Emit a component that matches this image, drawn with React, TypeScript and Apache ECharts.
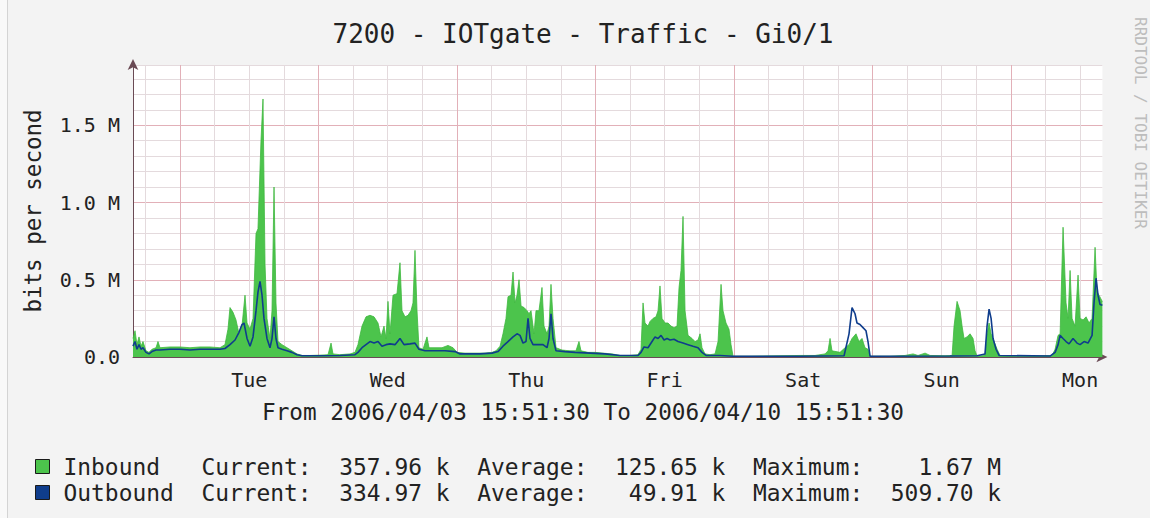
import React, { useEffect, useRef } from 'react';
import * as echarts from 'echarts';

// ---- time frame: Mon 2006/04/03 15:51:30 -> Mon 2006/04/10 15:51:30 ----
const START_HOUR_OF_DAY = 15 + 51.5 / 60;
const SPAN_HOURS = 168;
const FIRST_MIDNIGHT = 24 - START_HOUR_OF_DAY; // hours after start
const dayNames = ['Tue', 'Wed', 'Thu', 'Fri', 'Sat', 'Sun', 'Mon'];
const Y_MAX = 1.89; // M bits/s

// ---- Inbound (M bits/s), sample time in hours after start ----
const inboundHours = [
  0, 0.35, 0.69, 1.04, 1.39, 1.73, 2.25, 2.77, 3.29, 3.99, 4.33, 4.68, 6.41, 8.15, 9.88, 11.61, 13.35, 15.08, 15.94, 16.46,
  16.81, 17.33, 17.85, 18.37, 18.89, 19.41, 19.76, 20.28, 20.8, 21.32, 21.66, 22.18, 22.53, 22.88, 23.22, 23.74, 24.09, 24.44, 24.78, 25.13,
  25.82, 26.69, 27.55, 28.42, 29.29, 30.67, 32.41, 33.8, 34.32, 34.66, 35.88, 37.61, 38.47,
  38.99, 39.69, 40.38, 41.07, 41.77, 42.46, 42.98, 43.5, 43.85, 44.19, 44.54, 45.06, 45.75, 46.27, 46.62, 47.14, 47.66, 48.18, 48.52, 48.87,
  49.22, 49.56, 50.26, 50.95, 51.3, 52.34, 53.55, 54.59, 55.46, 56.15, 57.54, 59.27, 61.01, 62.22,
  62.91, 63.61, 64.12, 64.64, 64.99, 65.51, 65.86, 66.21, 66.55, 66.9, 67.25, 67.77, 68.28, 68.63, 68.98, 69.5, 69.84, 70.36, 70.88, 71.23,
  71.75, 72.1, 72.44, 72.79, 73.31, 74.35, 75.73, 76.77, 77.29, 77.64, 78.85, 80.07, 81.45, 83.01, 84.4, 86.13, 87.52,
  88.04, 88.39, 88.73, 89.25, 89.6, 90.12, 90.64, 90.99, 91.33, 91.68, 92.2, 92.72, 93.24, 93.76, 94.28, 94.63, 94.97, 95.32, 95.67, 96.19,
  96.88, 97.4, 97.92, 98.27, 98.61, 99.13, 100.0, 100.87, 101.39, 101.91, 102.25, 102.77, 103.29, 103.64, 103.99,
  106.93, 112.13, 115.6, 118.2, 119.93, 120.45, 120.8, 121.14, 122.53, 123.4, 124.09, 124.61, 125.3, 125.82, 126.34, 126.86, 127.38, 127.73,
  131.2, 133.8, 135.19, 136.05, 137.27, 138.14, 140.73, 141.95, 142.29, 142.81, 143.33, 143.68, 144.02, 144.54, 145.06, 145.58, 145.93, 146.28,
  147.66, 148.01, 148.36, 148.71, 149.23, 149.75, 150.26,
  153.73, 158.06, 159.28, 159.8, 160.32, 160.67, 161.18, 161.7, 162.05, 162.4, 162.74, 163.26, 163.78, 164.13, 164.65, 165.17, 165.69, 166.21,
  166.73, 167.07, 167.42, 168,
];
const inboundValues = [
  0.12, 0.17, 0.08, 0.13, 0.07, 0.1, 0.04, 0.03, 0.05, 0.06, 0.1, 0.06, 0.065, 0.065, 0.06, 0.065, 0.065, 0.06, 0.08, 0.18,
  0.32, 0.29, 0.24, 0.15, 0.2, 0.4, 0.22, 0.18, 0.25, 0.8, 0.83, 1.4, 1.67, 0.6, 0.25, 0.12, 0.3, 1.1, 0.35, 0.1,
  0.08, 0.06, 0.04, 0.02, 0.01, 0.01, 0.012, 0.015, 0.09, 0.02, 0.015, 0.02, 0.03,
  0.08, 0.2, 0.26, 0.27, 0.26, 0.22, 0.13, 0.2, 0.12, 0.36, 0.15, 0.4, 0.41, 0.61, 0.3, 0.26, 0.27, 0.3, 0.35, 0.69,
  0.3, 0.06, 0.05, 0.13, 0.06, 0.06, 0.06, 0.075, 0.06, 0.03, 0.025, 0.025, 0.025, 0.03,
  0.04, 0.07, 0.15, 0.25, 0.39, 0.4, 0.55, 0.35, 0.4, 0.5, 0.33, 0.32, 0.3, 0.28, 0.3, 0.15, 0.3, 0.3, 0.45, 0.2,
  0.15, 0.2, 0.47, 0.25, 0.06, 0.045, 0.04, 0.04, 0.1, 0.04, 0.03, 0.03, 0.025, 0.02, 0.01, 0.01, 0.015,
  0.05, 0.35, 0.22, 0.2, 0.23, 0.25, 0.26, 0.3, 0.46, 0.25, 0.22, 0.22, 0.2, 0.19, 0.2, 0.45, 0.56, 0.91, 0.3, 0.14,
  0.12, 0.1, 0.11, 0.15, 0.06, 0.02, 0.015, 0.02, 0.1, 0.47, 0.3, 0.22, 0.18, 0.08, 0.005,
  0.005, 0.008, 0.01, 0.01, 0.02, 0.04, 0.12, 0.04, 0.03, 0.06, 0.08, 0.12, 0.15, 0.1, 0.12, 0.06, 0.05, 0.005,
  0.005, 0.01, 0.02, 0.01, 0.025, 0.01, 0.008, 0.01, 0.2, 0.36, 0.3, 0.2, 0.12, 0.13, 0.15, 0.12, 0.04, 0.005,
  0.01, 0.15, 0.22, 0.15, 0.1, 0.05, 0.01,
  0.005, 0.008, 0.01, 0.05, 0.14, 0.15, 0.84, 0.35, 0.25, 0.56, 0.25, 0.2, 0.53, 0.25, 0.24, 0.26, 0.22, 0.25,
  0.71, 0.42, 0.4, 0.358,
];

// ---- Outbound (M bits/s) ----
const outboundHours = [
  0, 0.35, 0.69, 1.04, 1.39, 1.73, 2.25, 2.77, 3.29, 3.99, 4.68, 6.41, 8.15, 9.88, 11.61, 13.35, 15.08, 15.94, 16.81, 17.68,
  18.37, 18.89, 19.24, 19.76, 20.28, 20.8, 21.32, 21.66, 22.01, 22.36, 22.7, 23.22, 23.74, 24.09, 24.44, 24.78, 25.13, 25.82, 26.69, 27.55,
  28.42, 29.29, 32.41, 35.88, 38.47,
  38.99, 39.69, 40.38, 41.07, 41.77, 42.46, 43.15, 43.85, 44.54, 45.41, 46.27, 46.97, 48.01, 48.87, 49.56, 50.61, 52.34, 54.07, 55.81, 56.67,
  60.14, 62.22,
  63.26, 64.12, 64.99, 65.86, 66.55, 67.07, 67.59, 68.11, 68.46, 68.8, 69.32, 70.02, 71.06, 71.75, 72.1, 72.44, 72.79, 73.31, 74.87, 76.6,
  79.2, 81.8, 84.4, 87.52,
  88.04, 88.56, 89.25, 89.95, 90.47, 90.99, 91.51, 92.03, 92.55, 93.07, 93.76, 94.45, 95.32, 96.19, 97.05, 97.92, 98.61, 99.31, 101.73, 103.99,
  115.6, 123.23, 124.09, 124.61, 125.13, 125.47, 125.99, 126.51, 127.03, 127.38, 127.73,
  141.59, 146.28, 147.66, 148.01, 148.36, 148.71, 149.05, 149.57, 150.09,
  158.93, 159.8, 160.32, 160.67, 161.18, 161.7, 162.22, 162.91, 163.6, 164.13, 164.82, 165.51, 166.21, 166.55, 166.9, 167.24, 167.59, 168,
];
const outboundValues = [
  0.07, 0.1, 0.05, 0.08, 0.05, 0.06, 0.03, 0.02, 0.035, 0.045, 0.045, 0.05, 0.05, 0.045, 0.05, 0.05, 0.05, 0.055, 0.08, 0.11,
  0.16, 0.21, 0.22, 0.12, 0.07, 0.13, 0.3, 0.42, 0.49, 0.4, 0.25, 0.12, 0.06, 0.12, 0.26, 0.12, 0.06, 0.05, 0.04, 0.03,
  0.015, 0.008, 0.008, 0.01, 0.015,
  0.03, 0.06, 0.08, 0.1, 0.09, 0.1, 0.07, 0.08, 0.085, 0.08, 0.12, 0.08, 0.085, 0.09, 0.05, 0.04, 0.04, 0.04, 0.035, 0.02,
  0.02, 0.025,
  0.035, 0.07, 0.1, 0.13, 0.15, 0.14, 0.09, 0.1, 0.25, 0.12, 0.08, 0.08, 0.08, 0.06, 0.12, 0.28, 0.12, 0.04, 0.035, 0.03,
  0.025, 0.02, 0.01, 0.01,
  0.03, 0.065, 0.06, 0.1, 0.13, 0.12, 0.14, 0.11, 0.12, 0.11, 0.115, 0.1, 0.09, 0.08, 0.07, 0.06, 0.03, 0.01, 0.01, 0.005,
  0.005, 0.008, 0.15, 0.32, 0.28, 0.22, 0.21, 0.19, 0.17, 0.1, 0.005,
  0.006, 0.008, 0.02, 0.2, 0.31, 0.25, 0.12, 0.05, 0.01,
  0.006, 0.03, 0.08, 0.14, 0.12, 0.1, 0.085, 0.12, 0.09, 0.08, 0.1, 0.09, 0.14, 0.35, 0.51, 0.4, 0.34, 0.335,
];

// ---- legend statistics ----
const seriesNames = ['Inbound', 'Outbound'];
const currentLabels = ['357.96 k', '334.97 k'];
const averageLabels = ['125.65 k', '49.91 k'];
const maximumLabels = ['1.67 M', '509.70 k'];

const MONO = '"DejaVu Sans Mono", "Liberation Mono", monospace';
const TEXT = '#222222';
const AXIS_COLOR = '#6a4a54';
const MINOR = '#e4dadd';
const MAJOR = '#e2b0b8';
const GREEN = '#4cc44c';
const BLUE = '#0f3d8c';
const LEGEND_FONT = 22.9;
const CW = LEGEND_FONT * 0.6021;

const vGrid: { t: number; major: boolean }[] = [];
for (let t = FIRST_MIDNIGHT - 6; t < SPAN_HOURS; t += 6) {
  vGrid.push({ t, major: Math.abs(((t - FIRST_MIDNIGHT) / 24) - Math.round((t - FIRST_MIDNIGHT) / 24)) < 1e-6 });
}
const dayLabelHours = dayNames.map((_, i) => FIRST_MIDNIGHT + 12 + 24 * i);

const pairs = (xs: number[], ys: number[]) => xs.map((x, i) => [x, ys[i]]);

function buildOption() {
  const richBase = { fontFamily: MONO, fontSize: LEGEND_FONT, color: TEXT };
  return {
    animation: false,
    backgroundColor: '#f3f3f3',
    title: {
      text: '7200 - IOTgate - Traffic - Gi0/1',
      left: 583,
      top: 21,
      textAlign: 'center',
      padding: 0,
      textStyle: { fontFamily: MONO, fontSize: 26, fontWeight: 'normal', color: TEXT },
    },
    legend: {
      data: seriesNames,
      orient: 'vertical',
      left: 35,
      top: 455,
      padding: 0,
      itemGap: 3,
      itemWidth: 14,
      itemHeight: 14,
      icon: 'rect',
      selectedMode: false,
      itemStyle: { borderColor: '#1a1a1a', borderWidth: 1 },
      formatter: (name: string) => {
        const i = seriesNames.indexOf(name);
        return `{n|${name}}{c|Current:}{v|${currentLabels[i]}}{l|Average:}{v|${averageLabels[i]}}{l|Maximum:}{v|${maximumLabels[i]}}`;
      },
      textStyle: {
        ...richBase,
        rich: {
          n: { ...richBase, width: 10 * CW, padding: [0, 0, 0, 9] },
          c: { ...richBase, width: 8 * CW },
          l: { ...richBase, width: 10 * CW, align: 'right' },
          v: { ...richBase, width: 10 * CW, align: 'right' },
        },
      },
    },
    grid: { left: 133, top: 65, width: 969.4, height: 292, show: true, backgroundColor: '#ffffff', borderWidth: 0 },
    xAxis: {
      type: 'value',
      min: 0,
      max: SPAN_HOURS,
      axisLine: {
        show: true,
        symbol: ['none', 'arrow'],
        symbolSize: [8, 11],
        symbolOffset: [0, 5],
        lineStyle: { color: AXIS_COLOR, width: 1 },
      },
      axisTick: { show: false },
      splitLine: { show: false },
      axisLabel: {
        customValues: dayLabelHours,
        formatter: (v: number) => dayNames[Math.round((v - dayLabelHours[0]) / 24)] ?? '',
        fontFamily: MONO,
        fontSize: 20,
        color: TEXT,
        margin: 13,
      },
    },
    yAxis: [
      {
        type: 'value',
        min: 0,
        max: Y_MAX,
        interval: 0.1,
        position: 'left',
        axisLine: { show: false },
        axisTick: { show: false },
        axisLabel: { show: false },
        splitLine: { show: true, lineStyle: { color: MINOR, width: 1 } },
      },
      {
        type: 'value',
        min: 0,
        max: Y_MAX,
        interval: 0.5,
        position: 'left',
        name: 'bits per second',
        nameLocation: 'middle',
        nameGap: 89,
        nameTextStyle: { fontFamily: MONO, fontSize: 22.5, color: TEXT },
        axisLine: {
          show: true,
          symbol: ['none', 'arrow'],
          symbolSize: [8, 11],
          symbolOffset: [0, 6],
          lineStyle: { color: AXIS_COLOR, width: 1 },
        },
        axisTick: { show: false },
        axisLabel: {
          fontFamily: MONO,
          fontSize: 20,
          color: TEXT,
          margin: 13,
          formatter: (v: number) => {
            if (Math.abs(v * 2 - Math.round(v * 2)) > 1e-6) return '';
            return v === 0 ? '0.0' : `${v.toFixed(1)} M`;
          },
        },
        splitLine: { show: true, showMinLine: false, showMaxLine: false, lineStyle: { color: MAJOR, width: 1 } },
      },
    ],
    series: [
      {
        type: 'line',
        name: 'gridlines',
        data: [],
        xAxisIndex: 0,
        yAxisIndex: 0,
        silent: true,
        z: 1,
        markLine: {
          silent: true,
          z: 1,
          animation: false,
          symbol: ['none', 'none'],
          label: { show: false },
          data: vGrid.map((g) => ({
            xAxis: g.t,
            lineStyle: { color: g.major ? MAJOR : MINOR, type: 'solid', width: 1 },
          })),
        },
      },
      {
        type: 'line',
        name: 'Inbound',
        data: pairs(inboundHours, inboundValues),
        xAxisIndex: 0,
        yAxisIndex: 0,
        showSymbol: false,
        symbol: 'none',
        z: 2,
        color: GREEN,
        itemStyle: { color: GREEN },
        lineStyle: { color: '#3fb83f', width: 0.8 },
        areaStyle: { color: GREEN, opacity: 1 },
      },
      {
        type: 'line',
        name: 'Outbound',
        data: pairs(outboundHours, outboundValues),
        xAxisIndex: 0,
        yAxisIndex: 0,
        showSymbol: false,
        symbol: 'none',
        z: 3,
        color: BLUE,
        itemStyle: { color: BLUE },
        lineStyle: { color: BLUE, width: 1.6 },
      },
    ],
    graphic: [
      { type: 'rect', z: -10, shape: { x: 0, y: 0, width: 7, height: 518 }, style: { fill: '#f9f9f9' } },
      { type: 'line', z: -10, shape: { x1: 7.5, y1: 0, x2: 7.5, y2: 518 }, style: { stroke: '#d4d4d4', lineWidth: 1 } },
      {
        type: 'text',
        x: 583,
        y: 412,
        style: {
          text: 'From 2006/04/03 15:51:30 To 2006/04/10 15:51:30',
          fontFamily: MONO,
          fontSize: 22.7,
          fill: TEXT,
          align: 'center',
          verticalAlign: 'middle',
        },
      },
      {
        type: 'text',
        x: 1140,
        y: 123,
        rotation: -Math.PI / 2,
        style: {
          text: 'RRDTOOL / TOBI OETIKER',
          fontFamily: MONO,
          fontSize: 16,
          fill: '#bdbdbd',
          align: 'center',
          verticalAlign: 'middle',
        },
      },
    ],
  };
}

export default function App() {
  const ref = useRef<HTMLDivElement>(null);
  useEffect(() => {
    document.body.style.margin = '0';
    const chart = echarts.init(ref.current as HTMLDivElement, null, { renderer: 'svg' });
    chart.setOption(buildOption() as any);
    return () => chart.dispose();
  }, []);
  return <div ref={ref} style={{ width: 1150, height: 518 }} />;
}
